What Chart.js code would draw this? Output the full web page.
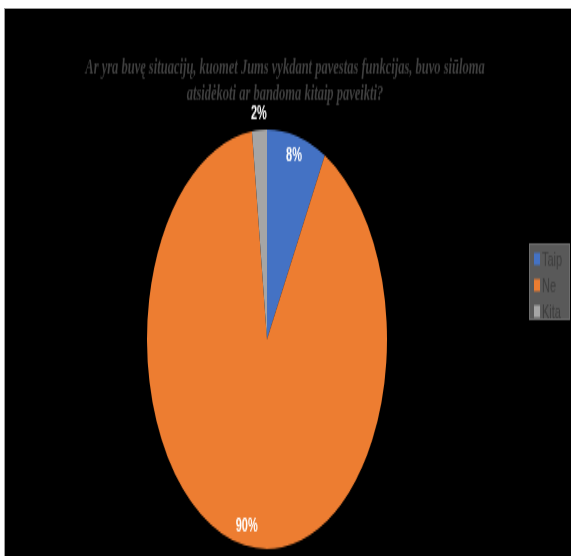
<!DOCTYPE html>
<html>
<head>
<meta charset="utf-8">
<script src="https://cdn.jsdelivr.net/npm/chart.js@4"></script>
<style>
  html, body { margin: 0; padding: 0; background: #fff; }
  #frame {
    position: absolute; left: 4px; top: 8px; width: 566px; height: 547px;
    background: #000; border-left: 1px solid #9a9a9a; border-top: 1px solid #9a9a9a;
    overflow: hidden;
  }
  /* the original picture is stretched vertically, so is this one */
  #wrap {
    position: absolute; left: 0; top: 0; width: 566px; height: 313px;
    transform: scale(1, 1.7476); transform-origin: 0 0;
  }
</style>
</head>
<body>
<div id="frame"><div id="wrap"><canvas id="canvas"></canvas></div></div>
<script>
const titleLines = [
  'Ar yra buvę situacijų, kuomet Jums vykdant pavestas funkcijas, buvo siūloma',
  'atsidėkoti ar bandoma kitaip paveikti?'
];
const categories = ['Taip', 'Ne', 'Kita'];
const shares = [8, 90, 2];
const colors = ['#4472c4', '#ed7d31', '#a5a5a5'];

// title sits a bit right of the pie centre in the original, so draw it here
const sideTitle = {
  id: 'sideTitle',
  afterDraw(chart) {
    const ctx = chart.ctx;
    ctx.save();
    ctx.font = 'italic bold 12.5px "Liberation Serif", "Times New Roman", serif';
    ctx.fillStyle = '#404040';
    ctx.textAlign = 'center';
    ctx.textBaseline = 'middle';
    titleLines.forEach((t, i) => ctx.fillText(t, 280, 33.5 + i * 15));
    ctx.restore();
  }
};

// percent labels: inside near the edge, small slices just outside
const pctLabels = {
  id: 'pctLabels',
  afterDatasetsDraw(chart) {
    const ctx = chart.ctx;
    const meta = chart.getDatasetMeta(0);
    const total = shares.reduce((a, b) => a + b, 0);
    ctx.save();
    ctx.font = 'bold 11px "Liberation Sans", Arial, sans-serif';
    ctx.fillStyle = '#ffffff';
    ctx.textAlign = 'center';
    ctx.textBaseline = 'middle';
    meta.data.forEach((arc, i) => {
      const p = arc.getProps(['x', 'y', 'startAngle', 'endAngle', 'outerRadius'], true);
      const mid = (p.startAngle + p.endAngle) / 2;
      const pct = Math.round(shares[i] / total * 100);
      const d = pct < 5 ? p.outerRadius + 9.5 : p.outerRadius * 0.905;
      ctx.fillText(pct + '%', p.x + Math.cos(mid) * d, p.y + Math.sin(mid) * d);
    });
    ctx.restore();
  }
};

// boxed legend on the right like the original
const boxLegend = {
  id: 'boxLegend',
  afterDraw(chart) {
    const ctx = chart.ctx;
    const x = 524, y = 134, w = 41, h = 44;
    ctx.save();
    ctx.fillStyle = '#595959';
    ctx.fillRect(x, y, w, h);
    ctx.strokeStyle = '#6e6e6e';
    ctx.lineWidth = 1;
    ctx.strokeRect(x + 0.5, y + 0.5, w - 1, h - 1);
    ctx.font = '11px "Liberation Sans", Arial, sans-serif';
    ctx.textBaseline = 'middle';
    categories.forEach((c, i) => {
      const cy = 143 + i * 15;
      ctx.fillStyle = colors[i];
      ctx.fillRect(529, cy - 3.5, 6, 7);
      ctx.fillStyle = '#3d3d3d';
      ctx.fillText(c, 537, cy + 0.5);
    });
    ctx.restore();
  }
};

new Chart(document.getElementById('canvas').getContext('2d'), {
  type: 'pie',
  data: {
    labels: categories,
    datasets: [{ data: shares, backgroundColor: colors, borderWidth: 0 }]
  },
  options: {
    responsive: true,
    maintainAspectRatio: false,
    animation: false,
    layout: { padding: { left: 20, right: 62, top: 69, bottom: 4 } },
    plugins: {
      legend: { display: false },
      tooltip: { enabled: false },
      title: { display: false }
    }
  },
  plugins: [sideTitle, pctLabels, boxLegend]
});
</script>
</body>
</html>
